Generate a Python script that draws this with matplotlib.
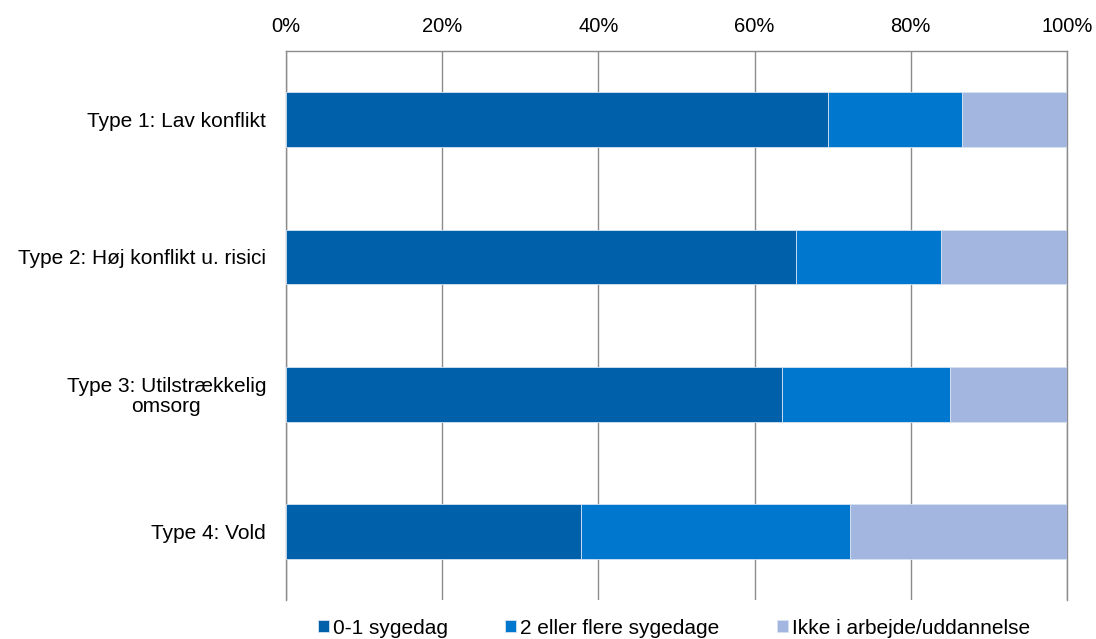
import matplotlib.pyplot as plt
import numpy as np

plt.rcParams['font.family'] = ['Liberation Sans', 'DejaVu Sans']

categories = ['Type 1: Lav konflikt', 'Type 2: Høj konflikt u. risici',
              'Type 3: Utilstrækkelig\nomsorg', 'Type 4: Vold']
series_names = ['0-1 sygedag', '2 eller flere sygedage', 'Ikke i arbejde/uddannelse']
sick_0_1 = [69.4, 65.3, 63.5, 37.8]
sick_2plus = [17.2, 18.6, 21.5, 34.4]
not_working = [13.4, 16.1, 15.0, 27.8]
colors = ['#0061AA', '#0077CF', '#A3B6E0']

fig = plt.figure(figsize=(10.96, 6.39), dpi=100)
ax = fig.add_axes([0.261, 0.061, 0.7125, 0.859])

y = np.arange(len(categories))
left = np.zeros(len(categories))
for name, vals, col in zip(series_names, [sick_0_1, sick_2plus, not_working], colors):
    ax.barh(y, vals, left=left, height=0.4, color=col, label=name,
            edgecolor='#D6E2F2', linewidth=0.6, zorder=3)
    left += np.array(vals)

ax.set_xlim(0, 100)
ax.set_ylim(3.5, -0.5)
ax.set_yticks(y)
ax.set_yticklabels(categories, fontsize=15, ha='right', multialignment='center',
                   linespacing=1.05)
ax.tick_params(axis='y', length=0, pad=14.4)
ax.xaxis.tick_top()
ax.set_xticks(range(0, 101, 20))
ax.set_xticklabels([f'{v}%' for v in range(0, 101, 20)], fontsize=14.5)
ax.tick_params(axis='x', length=0, pad=11)
ax.grid(axis='x', color='#8C8C8C', linewidth=1, zorder=0)
ax.spines['bottom'].set_visible(False)
for s in ['top', 'left', 'right']:
    ax.spines[s].set_color('#8C8C8C')
    ax.spines[s].set_linewidth(1)

leg = fig.legend(loc='center', bbox_to_anchor=(0.615, 0.017), ncol=3, frameon=False,
                 fontsize=15, handlelength=0.53, handleheight=0.53, handletextpad=0.2,
                 columnspacing=2.75, borderaxespad=0, borderpad=0)

fig.savefig('out.png', dpi=100)
